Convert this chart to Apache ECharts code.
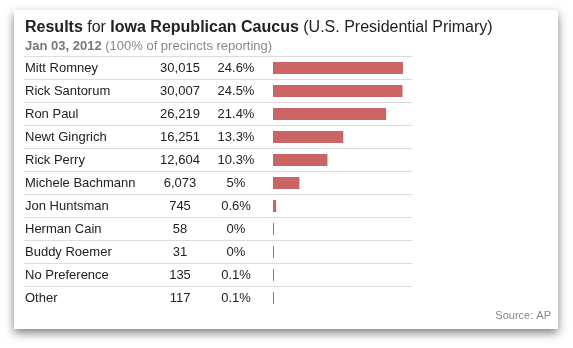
<!DOCTYPE html>
<html>
<head>
<meta charset="utf-8">
<style>
  html, body { margin: 0; padding: 0; background: #fff; }
  #chart { width: 573px; height: 348px; }
</style>
<script src="https://cdn.jsdelivr.net/npm/echarts@6/dist/echarts.min.js"></script>
</head>
<body>
<div id="chart"></div>
<script>
// Iowa Republican Caucus results, Jan 03 2012
const candidates = ['Mitt Romney', 'Rick Santorum', 'Ron Paul', 'Newt Gingrich', 'Rick Perry',
  'Michele Bachmann', 'Jon Huntsman', 'Herman Cain', 'Buddy Roemer', 'No Preference', 'Other'];
const votes = [30015, 30007, 26219, 16251, 12604, 6073, 745, 58, 31, 135, 117];
const percents = [24.6, 24.5, 21.4, 13.3, 10.3, 5, 0.6, 0, 0, 0.1, 0.1];

const FONT = '"Liberation Sans", Arial, Helvetica, sans-serif';
const chart = echarts.init(document.getElementById('chart'), null, { renderer: 'canvas' });

const rowsTop = 56.5;
const rowHeight = 23;
const tableHeight = rowHeight * candidates.length;

chart.setOption({
  animation: false,
  backgroundColor: '#fff',
  textStyle: { fontFamily: FONT },
  graphic: [{
    // white card with a soft drop shadow
    type: 'rect',
    z: -10,
    shape: { x: 14, y: 10, width: 544, height: 319 },
    style: {
      fill: '#fff',
      shadowBlur: 9,
      shadowOffsetY: 4,
      shadowOffsetX: 0,
      shadowColor: 'rgba(0,0,0,0.5)'
    }
  }, {
    type: 'text',
    right: 22,
    top: 310,
    style: { text: 'Source: AP', fill: '#888', font: '11px ' + FONT }
  }],
  title: {
    left: 25,
    top: 20,
    padding: 0,
    itemGap: 4,
    text: '{b|Results} for {b|Iowa Republican Caucus} (U.S. Presidential Primary)',
    textStyle: {
      color: '#222', fontSize: 16, fontWeight: 'normal', fontFamily: FONT,
      rich: { b: { fontWeight: 'bold', fontSize: 16, color: '#222', fontFamily: FONT } }
    },
    subtext: '{b|Jan 03, 2012} (100% of precincts reporting)',
    subtextStyle: {
      color: '#888', fontSize: 13, fontFamily: FONT,
      rich: { b: { fontWeight: 'bold', fontSize: 13, color: '#777', fontFamily: FONT } }
    }
  },
  grid: [
    { left: 24, width: 388, top: rowsTop, height: tableHeight },
    { left: 273, width: 139, top: rowsTop, height: tableHeight }
  ],
  xAxis: [
    { gridIndex: 0, type: 'value', show: false },
    { gridIndex: 1, type: 'value', min: 0, max: 26.3, show: false }
  ],
  yAxis: [{
    gridIndex: 0,
    type: 'category',
    inverse: true,
    data: candidates,
    axisLine: { show: false },
    axisTick: { show: false },
    splitLine: { show: true, showMaxLine: false, lineStyle: { color: '#dcdcdc', width: 1 } },
    axisLabel: {
      inside: true,
      margin: 1,
      formatter: (name, i) =>
        '{n|' + name + '}{v|' + votes[i].toLocaleString('en-US') + '}{p|' + percents[i] + '%}',
      rich: {
        n: { width: 125, align: 'left', fontSize: 13, color: '#222', fontFamily: FONT },
        v: { width: 60, align: 'center', fontSize: 13, color: '#222', fontFamily: FONT },
        p: { width: 52, align: 'center', fontSize: 13, color: '#222', fontFamily: FONT }
      }
    }
  }, {
    gridIndex: 1,
    type: 'category',
    inverse: true,
    data: candidates,
    show: false
  }],
  series: [{
    type: 'bar',
    xAxisIndex: 1,
    yAxisIndex: 1,
    data: percents,
    barWidth: 12,
    barMinHeight: 1,
    itemStyle: { color: '#cb6565' },
    silent: true
  }]
});
</script>
</body>
</html>
